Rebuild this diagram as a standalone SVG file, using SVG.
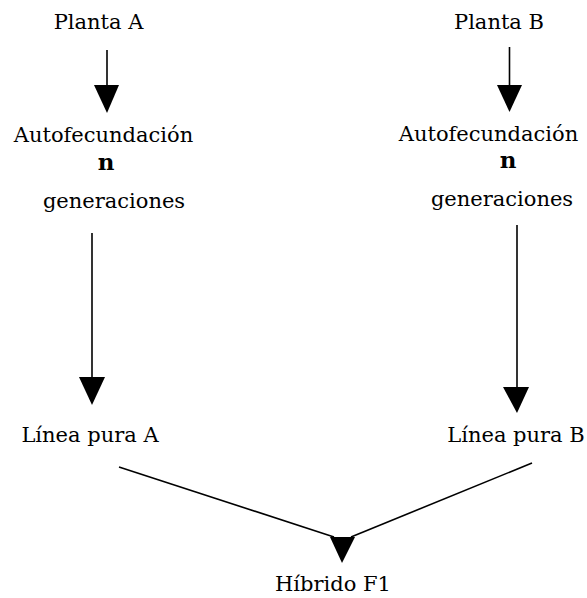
<svg xmlns="http://www.w3.org/2000/svg" width="587" height="598" viewBox="0 0 587 598">
  <style>
    .lbl { font-family: "DejaVu Serif", "Liberation Serif", serif; font-size: 21px; fill: #000; text-anchor: middle; }
    .big { font-family: "DejaVu Serif", "Liberation Serif", serif; font-size: 23px; font-weight: bold; fill: #000; text-anchor: middle; }
    .edge { stroke: #000; stroke-width: 1.6; fill: none; }
    .head { fill: #000; }
  </style>
  <rect width="587" height="598" fill="#fff"/>

  <!-- nodes -->
  <g id="planta-a"><text class="lbl" x="98.5" y="29">Planta A</text></g>
  <g id="planta-b"><text class="lbl" x="499" y="29">Planta B</text></g>
  <g id="auto-a">
    <text class="lbl" x="103.5" y="142">Autofecundación</text>
    <text class="big" x="106" y="170">n</text>
    <text class="lbl" x="114" y="208">generaciones</text>
  </g>
  <g id="auto-b">
    <text class="lbl" x="488.5" y="141">Autofecundación</text>
    <text class="big" x="508" y="168">n</text>
    <text class="lbl" x="502" y="206">generaciones</text>
  </g>
  <g id="linea-a"><text class="lbl" x="90" y="442">Línea pura A</text></g>
  <g id="linea-b"><text class="lbl" x="516" y="442">Línea pura B</text></g>
  <g id="hibrido"><text class="lbl" x="333" y="591">Híbrido F1</text></g>

  <!-- connectors -->
  <g id="connectors">
    <line class="edge" x1="107" y1="50" x2="107" y2="88"/>
    <polygon class="head" points="94,85 119,85 107,113"/>

    <line class="edge" x1="509.5" y1="47" x2="509.5" y2="88"/>
    <polygon class="head" points="497,85 522,85 509.5,112"/>

    <line class="edge" x1="92" y1="233" x2="92" y2="380"/>
    <polygon class="head" points="79,377 105,377 92,405"/>

    <line class="edge" x1="517" y1="225" x2="517" y2="390"/>
    <polygon class="head" points="503,387 529,387 517,413"/>

    <line class="edge" x1="119" y1="467" x2="334" y2="537"/>
    <line class="edge" x1="532" y1="463" x2="351" y2="537"/>
    <polygon class="head" points="330,537 355,537 342,563"/>
  </g>
</svg>
